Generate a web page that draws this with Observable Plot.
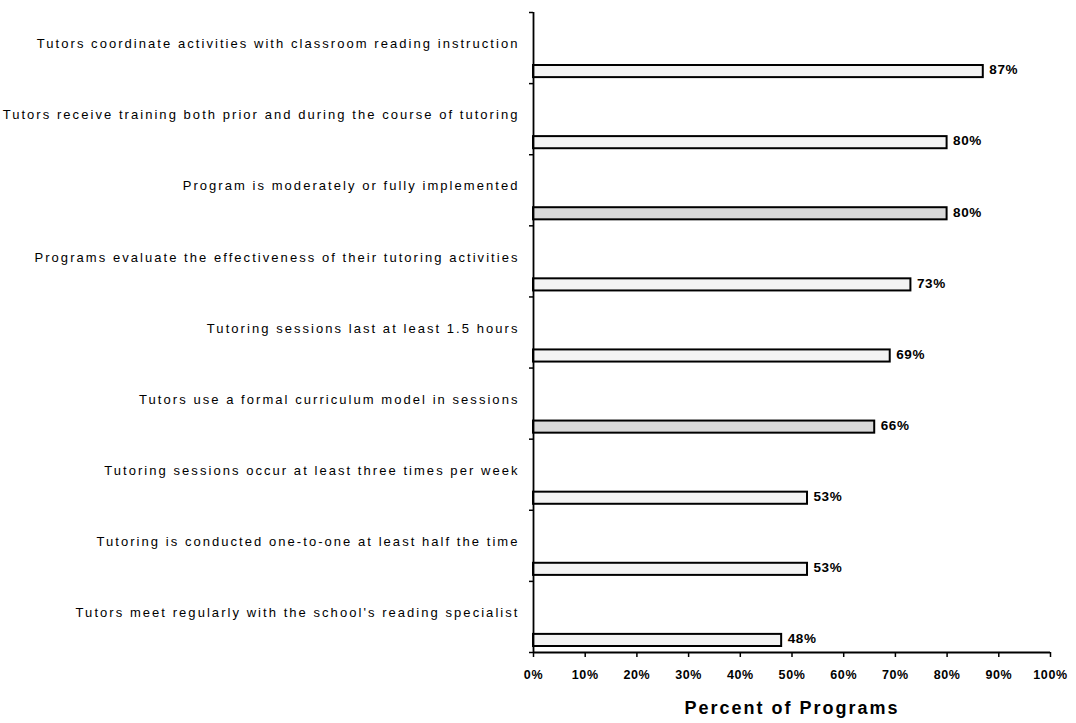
<!DOCTYPE html>
<html><head><meta charset="utf-8">
<script src="https://cdn.jsdelivr.net/npm/d3@7"></script>
<script src="https://cdn.jsdelivr.net/npm/@observablehq/plot@0.6"></script>
<style>
body{margin:0;background:#fff;}
#chart svg{font-family:"Liberation Sans",Arial,sans-serif;}
</style></head><body><div id="chart"></div>
<script>
const categories = [
  "Tutors coordinate activities with classroom reading instruction",
  "Tutors receive training both prior and during the course of tutoring",
  "Program is moderately or fully implemented",
  "Programs evaluate the effectiveness of their tutoring activities",
  "Tutoring sessions last at least 1.5 hours",
  "Tutors use a formal curriculum model in sessions",
  "Tutoring sessions occur at least three times per week",
  "Tutoring is conducted one-to-one at least half the time",
  "Tutors meet regularly with the school's reading specialist"
];
const values = [87, 80, 80, 73, 69, 66, 53, 53, 48];
const shades = ["light","light","dark","light","light","dark","light","light","light"];
const xTicks = [0,10,20,30,40,50,60,70,80,90,100];
const xLabel = "Percent of Programs";

const data = categories.map((c, i) => ({c, v: values[i], i, shade: shades[i]}));
const fillFor = s => s === "dark" ? "#d9d9d9" : "#f3f3f3";

const plot = Plot.plot({
  width: 1076, height: 723,
  marginLeft: 533, marginRight: 26, marginTop: 12, marginBottom: 71,
  x: {domain: [0, 100]},
  y: {domain: [0, 9], reverse: true},
  marks: [
    Plot.rect(data, {x1: 0, x2: "v", y1: "i", y2: d => d.i + 1, insetTop: 53, insetBottom: 6,
      fill: d => fillFor(d.shade), stroke: "black", strokeWidth: 2}),
    Plot.axisY({ticks: d3.range(0, 10), tickSize: 4, tickFormat: () => "", label: null, strokeWidth: 1.5}),
    Plot.axisX({ticks: xTicks, tickSize: 5, tickPadding: 13, tickFormat: d => d + "%", label: null,
      fontSize: 12.5, fontWeight: "bold", strokeWidth: 1.5, fill: "black"}),
    Plot.ruleX([0], {y1: 0, y2: 9, stroke: "black", strokeWidth: 1.8}),
    Plot.ruleY([9], {x1: 0, x2: 100, stroke: "black", strokeWidth: 1.8}),
    Plot.text(data, {x: 0, y: d => d.i + 0.5, text: "c",
      textAnchor: "end", dx: -14, dy: -4, fontSize: 13, fill: "black"}),
    Plot.text(data, {x: "v", y: d => d.i + 0.5, text: d => d.v + "%",
      textAnchor: "start", dx: 6, dy: 22, fontSize: 13.5, fontWeight: "bold", fill: "black"}),
    Plot.text([xLabel], {x: 50, frameAnchor: "bottom", dy: 61, text: d => d,
      fontSize: 18, fontWeight: "bold", fill: "black"})
  ]
});
const valueTexts = values.map(v => v + "%");
d3.select(plot).selectAll("text").each(function() {
  const t = this.textContent;
  if (categories.includes(t)) this.style.letterSpacing = "2.05px";
  else if (t === xLabel) this.style.letterSpacing = "2px";
  else if (valueTexts.includes(t) && this.getAttribute("text-anchor") === "start") this.style.letterSpacing = "1.6px";
  else if (/%$/.test(t)) this.style.letterSpacing = "0.6px";
});
document.getElementById("chart").appendChild(plot);
</script></body></html>
